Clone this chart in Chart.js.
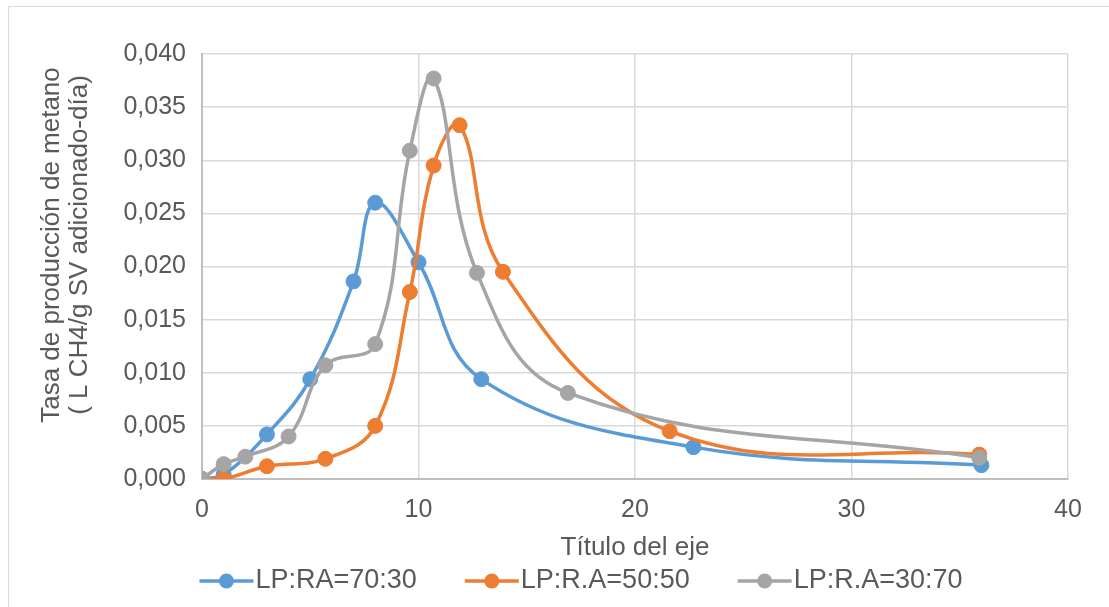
<!DOCTYPE html>
<html>
<head>
<meta charset="utf-8">
<script src="https://cdn.jsdelivr.net/npm/chart.js@4.4.1/dist/chart.umd.min.js"></script>
<style>
  html, body { margin: 0; padding: 0; background: #ffffff; overflow: hidden; }
  #frame { position: absolute; left: 0; top: 0; width: 1109px; height: 607px; }
  #borde { position: absolute; left: 8px; top: 6px; width: 1200px; height: 700px; border: 1px solid #d9d9d9; }
  #grafico { position: absolute; left: 0; top: 0; }
</style>
</head>
<body>
<div id="frame">
  <div id="borde"></div>
  <canvas id="grafico" width="1109" height="607"></canvas>
</div>
<script>
// dias de medicion y tasa de produccion de metano por serie
const diasLP70 = [0, 1, 3, 5, 7, 8, 10, 12.9, 22.7, 36];
const tasaLP70 = [0, 0.0004, 0.0042, 0.0094, 0.0186, 0.0260, 0.0204, 0.0094, 0.0030, 0.0013];

const diasLP50 = [0, 1, 3, 5.7, 8, 9.6, 10.7, 11.9, 13.9, 21.6, 35.9];
const tasaLP50 = [0, 0, 0.0012, 0.0019, 0.0050, 0.0176, 0.0295, 0.0333, 0.0195, 0.0045, 0.0023];

const diasLP30 = [0, 1, 2, 4, 5.7, 8, 9.6, 10.7, 12.7, 16.9, 35.9];
const tasaLP30 = [0, 0.0014, 0.0021, 0.0040, 0.0107, 0.0127, 0.0309, 0.0377, 0.0194, 0.0081, 0.0020];

const nombresSeries = ["LP:RA=70:30", "LP:R.A=50:50", "LP:R.A=30:70"];
const coloresSeries = ["#5b9bd5", "#ed7d31", "#a5a5a5"];

const tituloY = ["Tasa de producción de metano", "( L CH4/g SV adicionado-día)"];
const tituloX = "Título del eje";

const FUENTE = "'Liberation Sans', Arial, sans-serif";
const GRIS_TEXTO = "#595959";

function pares(xs, ys) {
  return xs.map((x, i) => ({ x, y: ys[i] }));
}

function serie(i, xs, ys) {
  return {
    label: nombresSeries[i],
    data: pares(xs, ys),
    borderColor: coloresSeries[i],
    backgroundColor: coloresSeries[i],
    pointBackgroundColor: coloresSeries[i],
    pointBorderColor: coloresSeries[i],
    borderWidth: 3.5,
    pointRadius: 7.5,
    pointBorderWidth: 1,
    tension: 0.4,
    fill: false,
    order: 2 - i, // la ultima serie queda encima, como en Excel
  };
}

// titulo vertical y leyenda dibujados a mano
const extras = {
  id: "extras",
  afterDraw(chart) {
    const ctx = chart.ctx;
    ctx.save();
    ctx.fillStyle = GRIS_TEXTO;
    ctx.font = "26px " + FUENTE;
    ctx.textAlign = "center";
    ctx.textBaseline = "middle";

    // titulo eje Y
    ctx.save();
    ctx.translate(52, 245);
    ctx.rotate(-Math.PI / 2);
    ctx.fillText(tituloY[0], 0, 0);
    ctx.fillText(tituloY[1], 0, 28);
    ctx.restore();

    // leyenda
    ctx.font = "27px " + FUENTE;
    const largoLinea = 54;
    const hueco = 2;
    const separacion = 48;
    const anchos = nombresSeries.map((t) => ctx.measureText(t).width);
    const total = anchos.reduce((a, w) => a + largoLinea + hueco + w, 0) + separacion * (nombresSeries.length - 1);
    let x = 581 - total / 2;
    const y = 581;
    ctx.textAlign = "left";
    nombresSeries.forEach((t, i) => {
      ctx.strokeStyle = coloresSeries[i];
      ctx.lineWidth = 3.5;
      ctx.beginPath();
      ctx.moveTo(x, y);
      ctx.lineTo(x + largoLinea, y);
      ctx.stroke();
      ctx.fillStyle = coloresSeries[i];
      ctx.beginPath();
      ctx.arc(x + largoLinea / 2, y, 7.5, 0, Math.PI * 2);
      ctx.fill();
      ctx.fillStyle = GRIS_TEXTO;
      ctx.fillText(t, x + largoLinea + hueco, y);
      x += largoLinea + hueco + anchos[i] + separacion;
    });
    ctx.restore();
  },
};

const ctx = document.getElementById("grafico").getContext("2d");

new Chart(ctx, {
  type: "line",
  data: {
    datasets: [
      serie(0, diasLP70, tasaLP70),
      serie(1, diasLP50, tasaLP50),
      serie(2, diasLP30, tasaLP30),
    ],
  },
  options: {
    responsive: false,
    animation: false,
    devicePixelRatio: 1,
    layout: { padding: { left: 0, right: 41, top: 54, bottom: 43 } },
    plugins: {
      legend: { display: false },
      tooltip: { enabled: false },
    },
    scales: {
      x: {
        type: "linear",
        min: 0,
        max: 40,
        ticks: {
          stepSize: 10,
          padding: 16,
          color: GRIS_TEXTO,
          font: { family: FUENTE, size: 25 },
        },
        grid: { color: "#d9d9d9", lineWidth: 1.5, drawTicks: false },
        border: { color: "#bfbfbf", width: 2 },
        title: {
          display: true,
          text: tituloX,
          color: GRIS_TEXTO,
          font: { family: FUENTE, size: 26, lineHeight: 1.15 },
          padding: { top: 0, bottom: 1 },
        },
        afterFit(scale) { scale.height = 85; },
      },
      y: {
        min: 0,
        max: 0.04,
        ticks: {
          stepSize: 0.005,
          padding: 16,
          color: GRIS_TEXTO,
          font: { family: FUENTE, size: 25 },
          callback: (v) => v.toFixed(3).replace(".", ","),
        },
        grid: { color: "#d9d9d9", lineWidth: 1.5, drawTicks: false },
        border: { color: "#bfbfbf", width: 2 },
        afterFit(scale) { scale.width = 202; },
      },
    },
  },
  plugins: [extras],
});
</script>
</body>
</html>
